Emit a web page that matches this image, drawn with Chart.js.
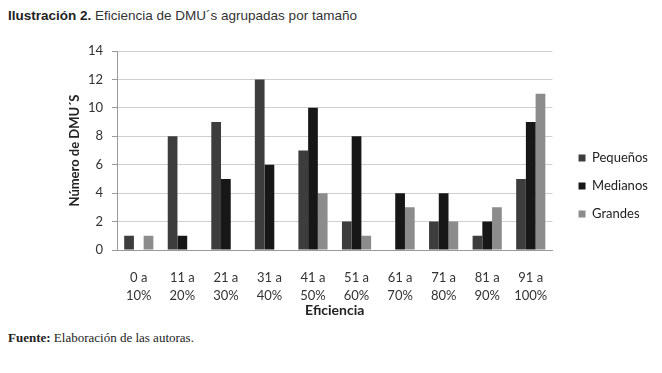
<!DOCTYPE html>
<html>
<head>
<meta charset="utf-8">
<script src="https://cdn.jsdelivr.net/npm/chart.js@4.4.1/dist/chart.umd.min.js"></script>
<style>
  html, body { margin: 0; padding: 0; background: #fff; }
  body { width: 662px; height: 373px; position: relative; overflow: hidden; }
  #title {
    position: absolute; left: 8px; top: 8px;
    font-family: "Liberation Sans", Arial, sans-serif; font-size: 13.5px; color: #333;
  }
  #title b { color: #222; }
  #wrap { position: absolute; left: 0; top: 30px; width: 662px; height: 291px; }
  #footer {
    position: absolute; left: 8px; top: 330px;
    font-family: "Liberation Serif", "DejaVu Serif", serif; font-size: 13px; color: #222;
  }
</style>
</head>
<body>
<div id="title"><b>Ilustración 2.</b> Eficiencia de DMU´s agrupadas por tamaño</div>
<div id="wrap"><canvas id="chart"></canvas></div>
<div id="footer"><b>Fuente:</b> Elaboración de las autoras.</div>
<script>
  // ---------- data ----------
  var categories = [
    ["0 a", "10%"], ["11 a", "20%"], ["21 a", "30%"], ["31 a", "40%"], ["41 a", "50%"],
    ["51 a", "60%"], ["61 a", "70%"], ["71 a", "80%"], ["81 a", "90%"], ["91 a", "100%"]
  ];
  var pequenos = [1, 8, 9, 12, 7, 2, 0, 2, 1, 5];
  var medianos = [0, 1, 5, 6, 10, 8, 4, 4, 2, 9];
  var grandes  = [1, 0, 0, 0, 4, 1, 3, 2, 3, 11];
  var yMax = 14;
  var yStep = 2;

  var tickFont = { family: "Lato, 'Open Sans', sans-serif", size: 13 };

  new Chart(document.getElementById("chart").getContext("2d"), {
    type: "bar",
    data: {
      labels: categories,
      datasets: [
        { label: "Pequeños", data: pequenos, backgroundColor: "#3d3d3d" },
        { label: "Medianos", data: medianos, backgroundColor: "#171717" },
        { label: "Grandes",  data: grandes,  backgroundColor: "#8c8c8c" }
      ]
    },
    options: {
      responsive: true,
      maintainAspectRatio: false,
      animation: false,
      layout: { padding: { top: 21, left: 60, right: 4, bottom: 0 } },
      datasets: { bar: { categoryPercentage: 0.67, barPercentage: 1.0 } },
      plugins: {
        tooltip: { enabled: false },
        legend: {
          position: "right",
          labels: {
            boxWidth: 7, boxHeight: 7, padding: 15, color: "#222",
            font: { family: "Lato, 'Open Sans', sans-serif", size: 13 }
          }
        }
      },
      scales: {
        x: {
          grid: { display: false },
          border: { display: true, color: "#9a9a9a" },
          ticks: { color: "#333", padding: 11, maxRotation: 0, autoSkip: false,
                   font: { family: tickFont.family, size: 13, lineHeight: 1.4 } },
          title: { display: true, text: "Eficiencia", color: "#222",
                   padding: { top: 0, bottom: 2 },
                   font: { family: tickFont.family, size: 14, weight: "bold" } },
          afterFit: function (s) { s.height = 71; }
        },
        y: {
          min: 0, max: yMax,
          ticks: { stepSize: yStep, color: "#333", padding: 9, font: tickFont },
          grid: { color: "#cfcfcf", tickLength: 5, tickColor: "#9a9a9a" },
          border: { display: true, color: "#9a9a9a" },
          title: { display: true, text: "Número de DMU´S", color: "#222",
                   padding: { top: 7, bottom: 0 },
                   font: { family: tickFont.family, size: 13, weight: "bold" } },
          afterFit: function (s) { s.width = 57; }
        },
        // spacer between plot area and legend
        yR: {
          position: "right", display: true,
          grid: { display: false }, border: { display: false },
          ticks: { display: false },
          afterFit: function (s) { s.width = 11; }
        }
      }
    }
  });
</script>
</body>
</html>
